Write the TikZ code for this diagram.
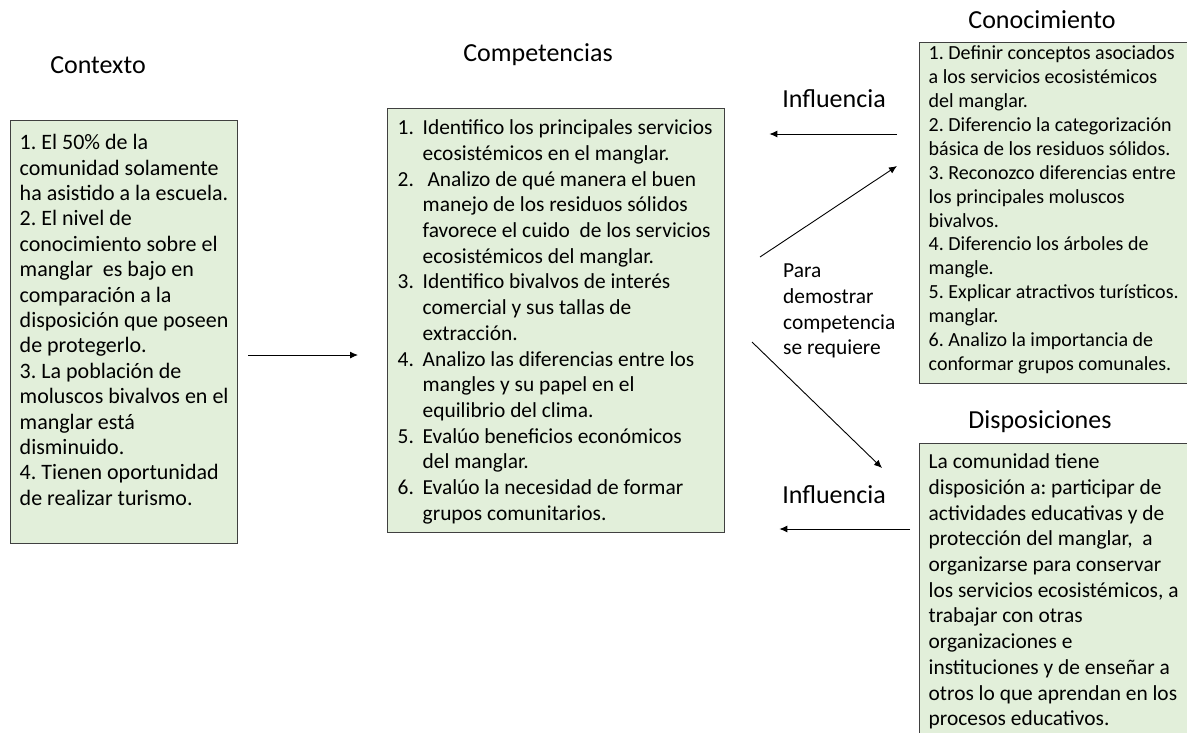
\documentclass[tikz,border=0pt]{standalone}
\usepackage{fontspec}
\setmainfont{Carlito}
\usetikzlibrary{arrows.meta}
\definecolor{boxfill}{HTML}{E2EFDA}
\definecolor{boxline}{HTML}{404040}
\frenchspacing
% height, width, first baseline, text
\newcommand{\boxtxt}[4]{\makebox[#2][l]{\parbox[t][#1][t]{500pt}{\raggedright\rule{0pt}{#3}#4}}}
\newcommand{\itm}[1]{\makebox[25pt][l]{#1}}
\newcommand{\cont}{\hspace*{25pt}}
\tikzset{
    box/.style={draw=boxline, line width=1.4pt, fill=boxfill, anchor=north west,
    	inner xsep=8pt, inner ysep=0pt},
    title/.style={font=\fontsize{26}{31}\selectfont},
    arr/.style={-{Latex[length=8pt,width=7pt]}, line width=0.9pt}
}

\begin{document}
\begin{tikzpicture}[x=1pt, y=-1pt]
	\clip (0,0) rectangle (1187,732);
	\node (ctxt) [title] at (98,65) {Contexto};
	\node (compt) [title] at (538,55) {Competencias};
	\node (conoct) [title] at (1042,20) {Conocimiento};
	\node (dispt) [title] at (1040,422) {Disposiciones};
	\node (infl1) [title] at (834,99) {Influencia};
	\node (infl2) [title] at (834,495) {Influencia};
	
	\node (ctx) [box, inner xsep=9pt, font=\fontsize{22}{25.4}\selectfont] at (10,120) {\boxtxt{423pt}{209pt}{29pt}{%
		1. El 50\% de la\\ comunidad solamente\\ ha asistido a la escuela.\\
		2. El nivel de\\ conocimiento sobre el\\ manglar\ \ es bajo en\\
		comparación a la\\ disposición que poseen\\ de protegerlo.\\
		3. La población de\\ moluscos bivalvos en el\\ manglar está\\ disminuido.\\
		4. Tienen oportunidad\\ de realizar turismo.}};
	\node (comp) [box, inner xsep=10pt, font=\fontsize{21.4}{25.7}\selectfont] at (387,108) {\boxtxt{424pt}{317pt}{26pt}{%
		\itm{1.}Identifico los principales servicios\\ \cont ecosistémicos en el manglar.\\
		\itm{2.}\ Analizo de qué manera el buen\\ \cont manejo de los residuos sólidos\\
		\cont favorece el cuido\ \ de los servicios\\ \cont ecosistémicos del manglar.\\
		\itm{3.}Identifico bivalvos de interés\\ \cont comercial y sus tallas de\\ \cont extracción.\\
		\itm{4.}Analizo las diferencias entre los\\ \cont mangles y su papel en el\\ \cont equilibrio del clima.\\
		\itm{5.}Evalúo beneficios económicos\\ \cont del manglar.\\
		\itm{6.}Evalúo la necesidad de formar\\ \cont grupos comunitarios.}};
	\node (conoc) [box, inner xsep=9pt, font=\fontsize{20}{23.9}\selectfont] at (919,42) {\boxtxt{341pt}{255pt}{17pt}{%
		1. Definir conceptos asociados\\ a los servicios ecosistémicos\\ del manglar.\\
		2. Diferencio la categorización\\ básica de los residuos sólidos.\\
		3. Reconozco diferencias entre\\ los principales moluscos\\ bivalvos.\\
		4. Diferencio los árboles de\\ mangle.\\
		5. Explicar atractivos turísticos.\\ manglar.\\
		6. Analizo la importancia de\\ conformar grupos comunales.}};
	\node (disp) [box, inner xsep=9pt, font=\fontsize{21.4}{25.7}\selectfont] at (919,443) {\boxtxt{297pt}{255pt}{25pt}{%
		La comunidad tiene\\ disposición a: participar de\\ actividades educativas y de\\
		protección del manglar,\ \ a\\ organizarse para conservar\\ los servicios ecosistémicos, a\\
		trabajar con otras\\ organizaciones e\\ instituciones y de enseñar a\\
		otros lo que aprendan en los\\ procesos educativos.}};
	\node (req) [anchor=north west, align=left, inner sep=0pt,
		font=\fontsize{21.4}{25.6}\selectfont] at (783,264) {Para\\ demostrar\\ competencia\\ se requiere};
	
	\coordinate (up0) at (760,257); \coordinate (up1) at (897,166);
	\coordinate (dn0) at (752,342); \coordinate (dn1) at (882,468);
	
	\draw [arr, shorten <=10pt, shorten >=29pt] (ctx.east |- 0,355) -- (comp.west |- 0,355);
	\draw [arr, shorten <=22pt, shorten >=44pt] (conoc.west |- 0,134) -- (comp.east |- 0,134);
	\draw [arr, shorten <=9pt, shorten >=54pt] (disp.west |- 0,529) -- (comp.east |- 0,529);
	\draw [arr] (up0) -- (up1);
	\draw [arr] (dn0) -- (dn1);
\end{tikzpicture}
\end{document}
